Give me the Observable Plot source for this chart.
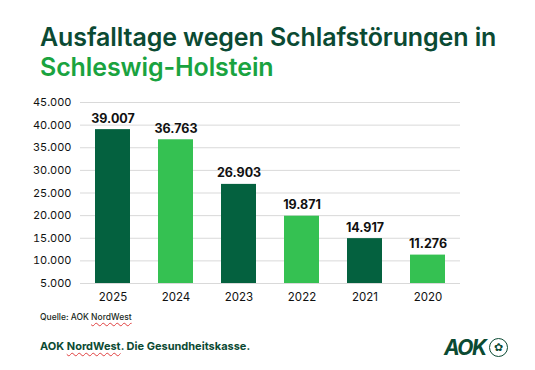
<!DOCTYPE html>
<html><head><meta charset="utf-8">
<script src="https://cdn.jsdelivr.net/npm/d3@7"></script>
<script src="https://cdn.jsdelivr.net/npm/@observablehq/plot@0.6"></script>
<style>
body{margin:0;background:#fff;width:535px;height:370px;position:relative;overflow:hidden;font-family:Inter,"Open Sans",sans-serif;}
#title{position:absolute;left:40px;top:22px;font-size:25px;font-weight:600;line-height:30px;color:#0b4a33;letter-spacing:-0.1px;}
#title .g{color:#1aa33f;}
#chart{position:absolute;left:0;top:90px;}
#src{position:absolute;left:40px;top:312px;font-size:8.5px;color:#1a2a22;font-weight:500;}
#claim{position:absolute;left:40px;top:339px;font-size:11px;font-weight:700;color:#0b4a33;}
.sp{text-decoration:underline wavy #e04040;text-decoration-thickness:1px;text-underline-offset:2px;}
#logo{position:absolute;left:444px;top:335px;display:flex;align-items:center;gap:3px;color:#0b4a33;}
#logo .t{font-size:21px;font-weight:700;font-style:italic;letter-spacing:-1.5px;}
#logo .c{width:19px;height:19px;border:1.7px solid #0b4a33;border-radius:50%;box-sizing:border-box;display:flex;align-items:center;justify-content:center;font-size:11px;line-height:1;}
</style></head><body>
<div id="title">Ausfalltage wegen Schlafstörungen in<br><span class="g">Schleswig-Holstein</span></div>
<div id="chart"></div>
<div id="src">Quelle: AOK <span class="sp">NordWest</span></div>
<div id="claim">AOK <span class="sp">NordWest</span>. Die Gesundheitskasse.</div>
<div id="logo"><span class="t">AOK</span><span class="c">✿</span></div>
<script>
const years = ["2025","2024","2023","2022","2021","2020"];
const values = [39007, 36763, 26903, 19871, 14917, 11276];
const shades = ["dark","light","dark","light","dark","light"];
const yTicks = [5000,10000,15000,20000,25000,30000,35000,40000,45000];

const de = d3.formatLocale({decimal:",", thousands:".", grouping:[3], currency:["","€"]});
const fmt = de.format(",d");
const data = years.map((y,i)=>({year:y, value:values[i], shade:shades[i]}));

const chart = Plot.plot({
  width: 535, height: 215,
  marginLeft: 80, marginRight: 75, marginTop: 12, marginBottom: 22,
  style: {fontFamily: "Inter, 'Open Sans', sans-serif", color: "#111"},
  x: {domain: years, paddingInner: 0.45, paddingOuter: 0.225, label: null},
  y: {domain: [5000, 45000], label: null},
  color: {domain: ["dark","light"], range: ["#04613f","#35c152"]},
  marks: [
    Plot.gridY(yTicks, {stroke: "#d9d9d9", strokeOpacity: 1}),
    Plot.axisY(yTicks, {tickSize: 0, tickPadding: 9, tickFormat: fmt, fontSize: 11, label: null}),
    Plot.axisX({tickSize: 0, tickPadding: 9, fontSize: 11.5, label: null}),
    Plot.barY(data, {x: "year", y1: 5000, y2: "value", fill: "shade"}),
    Plot.text(data, {x: "year", y: "value", text: d => fmt(d.value), dy: -11, fontSize: 12.5, fontWeight: 700, fill: "#111"})
  ]
});
document.getElementById("chart").appendChild(chart);
</script>
</body></html>
